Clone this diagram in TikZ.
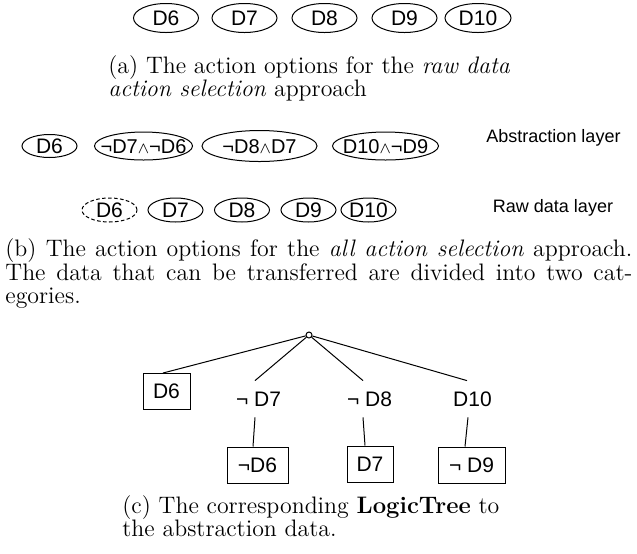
\documentclass[tikz,border=0pt]{standalone}
\usepackage{fontspec}
\newfontfamily\diagfont{Liberation Sans}
\usetikzlibrary{shapes.geometric}
\newlength\capref
% logical "and" as a thin operator between data labels
\newcommand\andsym{{\fontsize{8}{9}\selectfont$\wedge$}}
% label set without size, so the ellipse keeps its own dimensions
\newcommand\inell[1]{\makebox[0pt]{\raisebox{-3.6pt}[0pt][0pt]{#1}}}
\begin{document}
\settowidth\capref{\fontsize{10}{12}\selectfont (b) The action options for the \textit{all action selection} approach.}
\pgfmathsetmacro\capsize{10*313.5/\capref}
\newcommand\capfont{\fontsize{\capsize}{11.75}\selectfont}
\begin{tikzpicture}[x=0.5pt,y=-0.5pt,
  every node/.style={inner sep=0pt},
  datum/.style={ellipse,draw,line width=0.5pt,font=\diagfont\fontsize{10.5}{12}\selectfont},
  combo/.style={datum,font=\diagfont\fontsize{10}{12}\selectfont},
  toprow/.style={datum,minimum width=32.5pt,minimum height=14.5pt},
  rawrow/.style={datum,minimum width=27.5pt,minimum height=12pt},
  layerlabel/.style={font=\diagfont\fontsize{9}{11}\selectfont},
  capline/.style={anchor=base west,font=\capfont},
  leaf/.style={draw,line width=0.5pt,font=\diagfont\fontsize{10.5}{12}\selectfont,minimum height=18pt},
  inner/.style={font=\diagfont\fontsize{10.5}{12}\selectfont,minimum height=18pt},
  edge/.style={line width=0.5pt}]
\useasboundingbox (0,0) rectangle (637,553);

% (a) raw data options
\node[toprow] (a6) at (166,18) {\inell{D6}};
\node[toprow] (a7) at (244.5,18) {\inell{D7}};
\node[toprow] (a8) at (324.5,18) {\inell{D8}};
\node[toprow] (a9) at (404.5,18) {\inell{D9}};
\node[toprow,minimum width=33pt] (a10) at (478,18) {\inell{D10}};

\node[capline] (capa1) at (108,73) {(a) The action options for the \textit{raw data}};
\node[capline] (capa2) at (108,96) {\textit{action selection} approach};

% (b) abstraction layer
\node[datum,minimum width=27.5pt,minimum height=11.5pt] (s1) at (49.5,146) {\inell{D6}};
\node[combo,minimum width=49pt,minimum height=14pt] (s2) at (143.5,146) {\inell{¬D7\andsym¬D6}};
\node[combo,minimum width=57.5pt,minimum height=15.5pt] (s3) at (259.5,146) {\inell{¬D8\andsym D7}};
\node[combo,minimum width=53pt,minimum height=14pt] (s4) at (385.5,146) {\inell{D10\andsym¬D9}};
\node[layerlabel] (labs) at (553.5,138) {Abstraction layer};

% (b) raw data layer
\node[rawrow,dash pattern=on 1.8pt off 1.2pt] (r6) at (109.5,210) {\inell{D6}};
\node[rawrow] (r7) at (175.5,210) {\inell{D7}};
\node[rawrow] (r8) at (242,210) {\inell{D8}};
\node[rawrow] (r9) at (308.5,210) {\inell{D9}};
\node[rawrow] (r10) at (368.5,210) {\inell{D10}};
\node[layerlabel] (lraw) at (553,208) {Raw data layer};

\node[capline] (capb1) at (5,256) {\makebox[313.5pt][s]{(b) The action options for the \textit{all action selection} approach.}};
\node[capline] (capb2) at (5,280) {\makebox[313.5pt][s]{The data that can be transferred are divided into two cat-}};
\node[capline] (capb3) at (5,303) {egories.};

% (c) logic tree
\node[circle,draw,line width=0.5pt,minimum size=3pt] (root) at (309,335) {};
\node[leaf,minimum width=23.5pt] (t6) at (166.5,391.5) {D6};
\node[inner] (t7) at (258.5,399) {¬ D7};
\node[inner] (t8) at (369.5,399) {¬ D8};
\node[inner] (t10) at (472.5,399) {D10};
\node[leaf,minimum width=30.5pt] (u6) at (257.5,465) {¬D6};
\node[leaf,minimum width=23pt] (u7) at (370,464) {D7};
\node[leaf,minimum width=33.5pt] (u9) at (471.5,465) {¬ D9};

\draw[edge] (root) -- ([xshift=-1.75pt]t6.north);
\draw[edge] (root) -- ([xshift=-1.75pt]t7.north);
\draw[edge] (root) -- ([xshift=-3.25pt]t8.north);
\draw[edge] (root) -- ([xshift=-2.75pt]t10.north);
\draw[edge] ([xshift=-1.75pt]t7.south) -- ([xshift=-2.25pt]u6.north);
\draw[edge] ([xshift=-3.25pt]t8.south) -- ([xshift=-2.5pt]u7.north);
\draw[edge] ([xshift=-2.25pt]t10.south) -- ([xshift=-3.25pt]u9.north);

\node[capline] (capc1) at (122,513) {(c) The corresponding \textbf{LogicTree} to};
\node[capline] (capc2) at (122,536) {the abstraction data.};
\end{tikzpicture}
\end{document}
